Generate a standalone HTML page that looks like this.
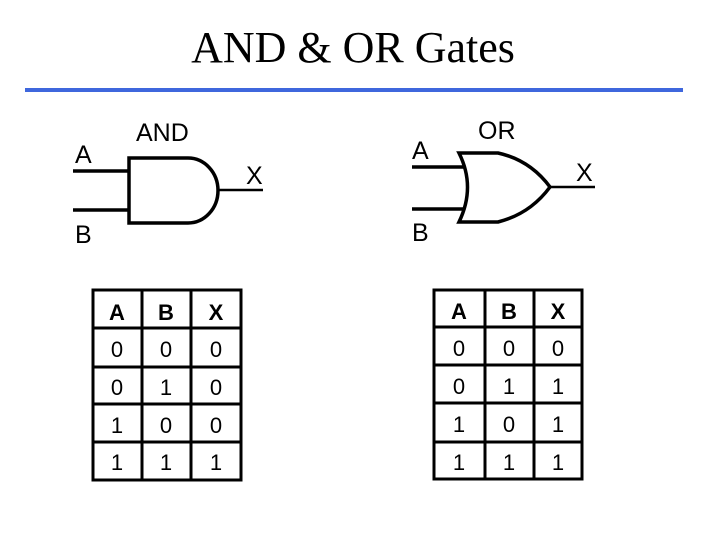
<!DOCTYPE html>
<html><head><meta charset="utf-8"><style>
html,body{margin:0;padding:0;background:#fff;}
svg{display:block}
</style></head><body>
<svg width="720" height="540" viewBox="0 0 720 540" xmlns="http://www.w3.org/2000/svg">
<text x="353" y="62" text-anchor="middle" font-family="Liberation Serif, serif" font-size="44" fill="#000">AND &amp; OR Gates</text>
<rect x="25" y="88" width="658" height="4" fill="#3f67dd"/>

<g stroke="#000" fill="none" stroke-width="3.5">
<line x1="73" y1="171" x2="129" y2="171"/>
<line x1="73" y1="210" x2="129" y2="210"/>
<path d="M129 158 L188 158 A30 32.5 0 0 1 188 223 L129 223 Z"/>
<line x1="218" y1="190" x2="263" y2="190" stroke-width="2.5"/>
<line x1="412" y1="167" x2="465" y2="167"/>
<line x1="412" y1="209" x2="465" y2="209"/>
<path d="M459 153 L498 153 Q530 160 550 187 Q530 214 498 222 L459 222 Q476 187 459 153 Z"/>
<line x1="550" y1="187" x2="595" y2="187" stroke-width="2.5"/>
</g>

<g font-family="Liberation Sans, sans-serif" font-size="25" fill="#000">
<text x="136" y="141">AND</text>
<text x="75" y="163">A</text>
<text x="75" y="243">B</text>
<text x="246" y="184">X</text>
<text x="478" y="139">OR</text>
<text x="412" y="159">A</text>
<text x="412" y="241">B</text>
<text x="576" y="181">X</text>
</g>

<g stroke="#000" stroke-width="3" fill="none">
<rect x="93" y="290" width="148" height="190"/>
<line x1="142" y1="290" x2="142" y2="480"/>
<line x1="191" y1="290" x2="191" y2="480"/>
<line x1="93" y1="328" x2="241" y2="328"/>
<line x1="93" y1="367" x2="241" y2="367"/>
<line x1="93" y1="404" x2="241" y2="404"/>
<line x1="93" y1="442" x2="241" y2="442"/>
<rect x="434" y="290" width="148" height="189"/>
<line x1="485" y1="290" x2="485" y2="479"/>
<line x1="534" y1="290" x2="534" y2="479"/>
<line x1="434" y1="327" x2="582" y2="327"/>
<line x1="434" y1="365" x2="582" y2="365"/>
<line x1="434" y1="403" x2="582" y2="403"/>
<line x1="434" y1="442" x2="582" y2="442"/>
</g>
<g font-family="Liberation Sans, sans-serif" font-size="22" fill="#000" text-anchor="middle">
<g font-weight="bold"><text x="117" y="320">A</text><text x="166" y="320">B</text><text x="216" y="320">X</text></g>
<text x="117" y="357">0</text><text x="166" y="357">0</text><text x="216" y="357">0</text>
<text x="117" y="395">0</text><text x="166" y="395">1</text><text x="216" y="395">0</text>
<text x="117" y="433">1</text><text x="166" y="433">0</text><text x="216" y="433">0</text>
<text x="117" y="470">1</text><text x="166" y="470">1</text><text x="216" y="470">1</text>

<g font-weight="bold"><text x="459" y="319">A</text><text x="509" y="319">B</text><text x="558" y="319">X</text></g>
<text x="459" y="356">0</text><text x="509" y="356">0</text><text x="558" y="356">0</text>
<text x="459" y="394">0</text><text x="509" y="394">1</text><text x="558" y="394">1</text>
<text x="459" y="432">1</text><text x="509" y="432">0</text><text x="558" y="432">1</text>
<text x="459" y="470">1</text><text x="509" y="470">1</text><text x="558" y="470">1</text>
</g>
</svg>
</body></html>
